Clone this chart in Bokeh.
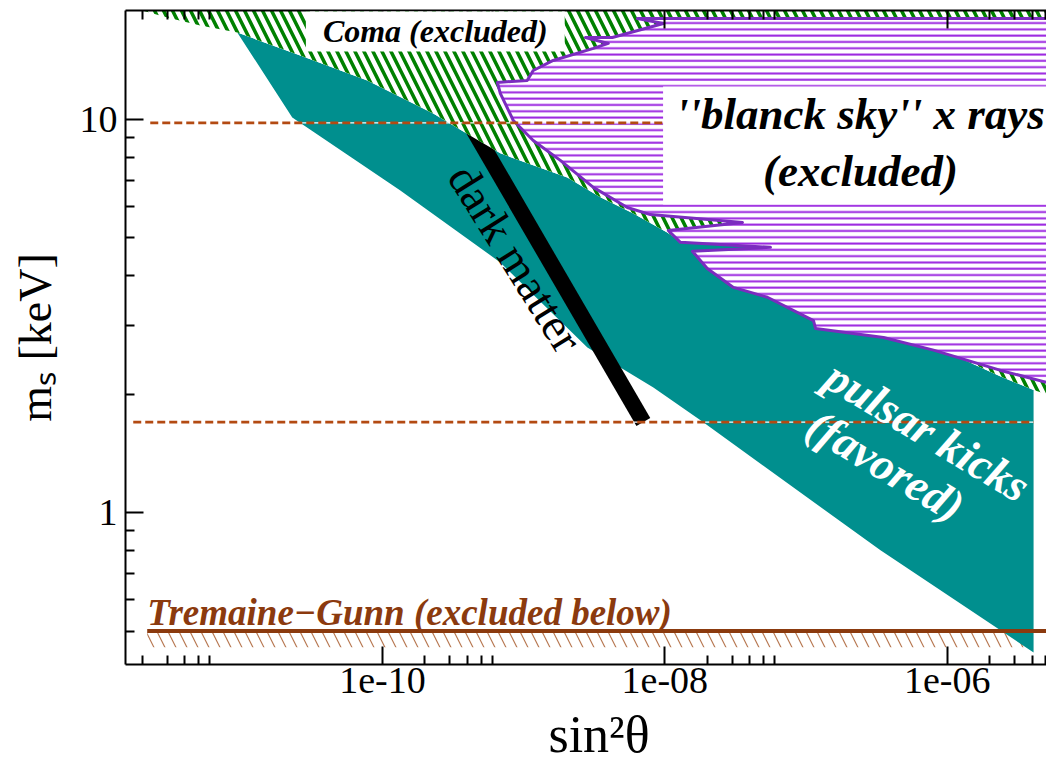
import math
from bokeh.plotting import figure
from bokeh.models import Range1d, LogAxis, FixedTicker, CustomJSTickFormatter, Label
from bokeh.embed import file_html
from bokeh.resources import INLINE

# ---------------- data : x = sin^2(theta), y = m_s [keV] ----------------
x_major = [1e-12, 1e-10, 1e-8, 1e-6]
x_minor = [2e-12, 3e-12, 4e-12, 5e-12, 6e-12,
           2e-10, 3e-10, 4e-10, 5e-10, 6e-10,
           2e-8, 3e-8, 4e-8, 5e-8, 6e-8,
           2e-6, 3e-6, 4e-6, 5e-6, 6e-6]
y_major = [1, 10]
y_minor = [0.5, 0.6, 0.7, 0.8, 0.9, 2, 3, 4, 5, 6, 7, 8, 9]

# pulsar-kick (favoured) region
pulsar_x = [9.38e-12, 2.62e-11, 7.82e-11, 2.29e-10, 4.41e-10, 6.84e-10, 2.04e-9, 3.50e-9,
            5.99e-9, 1.04e-8, 1.29e-8, 6.07e-8, 6.07e-8, 2.10e-8, 3.06e-8, 5.33e-8,
            1.13e-7, 3.54e-7, 8.0e-7, 1.24e-6, 2.39e-6, 4.09e-6, 4.09e-6, 3.37e-7,
            1.79e-8, 8.30e-9, 2.83e-9, 6.84e-10, 1.34e-10, 2.30e-11]
pulsar_y = [16.64, 14.54, 12.57, 10.36, 9.00, 8.20, 7.12, 6.34,
            5.77, 5.16, 4.90, 4.78, 4.64, 4.33, 3.83, 3.61,
            3.16, 2.86, 2.63, 2.47, 2.22, 2.05, 0.441, 0.802,
            1.717, 2.08, 2.63, 4.33, 6.60, 10.12]

# Coma exclusion: lower-left edge, then along the top of the pulsar region
coma_left_x = [1.8e-12, 1.99e-12, 2.99e-12, 5.13e-12]
coma_left_y = [20.0, 18.93, 18.17, 17.34]
coma_right_x = [6.35e-6, 6.35e-6, 1.8e-12]
coma_right_y = [1.95, 25.0, 25.0]

# "blanck sky" x-ray exclusion
xray_x = [6.35e-6, 6.40e-9, 9.77e-9, 4.25e-9, 2.74e-9, 3.98e-9, 3.12e-9, 1.62e-9,
          1.17e-9, 1.06e-9, 6.52e-10, 6.84e-10, 8.46e-10, 1.17e-9, 1.82e-9, 3.12e-9,
          5.43e-9, 7.91e-9, 3.55e-8, 1.06e-8, 1.29e-8, 5.60e-8, 1.57e-8, 2.00e-8,
          3.06e-8, 5.33e-8, 1.13e-7, 1.17e-7, 3.54e-7, 8.0e-7, 2.39e-6, 6.35e-6]
xray_y = [18.06, 18.06, 17.54, 16.16, 16.16, 15.61, 15.16, 14.13,
          13.32, 12.57, 12.42, 11.65, 9.94, 8.84, 7.87, 6.72,
          5.97, 5.73, 5.47, 5.22, 4.87, 4.73, 4.62, 4.18,
          3.74, 3.53, 3.08, 2.94, 2.79, 2.59, 2.30, 2.10]

# dark matter line
dm_x = [3.28e-10, 7.05e-9]
dm_y = [11.31, 1.70]

# Tremaine-Gunn bound
tg_mass = 0.5
tg_hatch_low = 0.455
tg_x = [2.16e-12, 6.35e-6]
tg_hatch_x = [2.16e-12, 4.0e-6]

# dotted reference masses
ref_hi_mass = 9.8
ref_hi_x = [2.27e-12, 9.62e-9]
ref_lo_mass = 1.7
ref_lo_x = [1.72e-12, 4.09e-6]

# ---------------- figure ----------------
FONT = "Liberation Serif"
p = figure(width=1046, height=765, x_axis_type="log", y_axis_type="log",
           x_range=Range1d(1.516e-12, 5.05e-6), y_range=Range1d(0.411, 18.93),
           output_backend="svg", toolbar_location=None,
           min_border_left=125, min_border_right=0, min_border_top=10, min_border_bottom=101)
p.outline_line_color = None
p.grid.visible = False
p.background_fill_color = "white"
p.border_fill_color = "white"

xfmt = CustomJSTickFormatter(code="""
const e = Math.round(Math.log10(tick));
const a = Math.abs(e);
return "1e" + (e < 0 ? "-" : "+") + (a < 10 ? "0" + a : String(a));
""")
yfmt = CustomJSTickFormatter(code="return String(Math.round(tick));")
blankfmt = CustomJSTickFormatter(code="return '';")


def style(ax, ticks, minors):
    ax.ticker = FixedTicker(ticks=ticks, minor_ticks=minors)
    ax.axis_line_width = 2
    ax.axis_line_color = "black"
    ax.major_tick_in = 18
    ax.major_tick_out = 0
    ax.minor_tick_in = 9
    ax.minor_tick_out = 0
    ax.major_tick_line_width = 2
    ax.minor_tick_line_width = 2
    ax.major_label_text_font = FONT
    ax.major_label_text_font_size = "38px"
    ax.major_label_text_color = "black"
    ax.axis_label_text_font = FONT
    ax.axis_label_text_font_style = "normal"
    ax.axis_label_text_color = "black"


xa = p.xaxis[0]
style(xa, x_major, x_minor)
xa.formatter = xfmt
xa.major_label_standoff = 3
xa.axis_label = "\u2002sin\u00b2\u03b8"
xa.axis_label_text_font_size = "52px"
xa.axis_label_standoff = 10

ya = p.yaxis[0]
style(ya, y_major, y_minor)
ya.formatter = yfmt
ya.major_label_standoff = 8
ya.axis_label = "m\u209b [keV]"
ya.axis_label_text_font_size = "46px"
ya.axis_label_standoff = 16

top = LogAxis()
style(top, x_major, x_minor)
top.formatter = blankfmt
top.major_label_text_font_size = "1px"
top.major_label_standoff = 0
p.add_layout(top, "above")

# Tremaine-Gunn hatch (below the bound)
p.quad(left=[tg_hatch_x[0]], right=[tg_hatch_x[1]], bottom=[tg_hatch_low], top=[tg_mass],
       fill_color=None, line_color=None, hatch_pattern="left_diagonal_line",
       hatch_color="#b06a40", hatch_scale=22, hatch_weight=1.2, hatch_alpha=0.9)

# pulsar kick region
p.patch(pulsar_x, pulsar_y, fill_color="#008f8e", line_color=None)

# dark matter band
p.line(dm_x, dm_y, line_color="black", line_width=16, line_cap="butt")

# Coma exclusion
coma_x = coma_left_x + pulsar_x[:22] + coma_right_x
coma_y = coma_left_y + pulsar_y[:22] + coma_right_y
p.patch(coma_x, coma_y, fill_color="white", line_color=None,
        hatch_pattern="left_diagonal_line", hatch_color="#008000",
        hatch_scale=18, hatch_weight=3.5)

# x-ray exclusion
p.patch(xray_x, xray_y, fill_color="white", line_color="#7b2cbf", line_width=3,
        line_join="round", hatch_pattern="horizontal_line", hatch_color="#9b26e0",
        hatch_scale=6.3, hatch_weight=2.0)

# reference dashed lines
for xs, m in ((ref_hi_x, ref_hi_mass), (ref_lo_x, ref_lo_mass)):
    p.line(xs, [m, m], line_color="white", line_width=1.2)
    p.line(xs, [m, m], line_color="#b34a12", line_width=2.7, line_dash="8 4")

# Tremaine-Gunn line
p.line(tg_x, [tg_mass, tg_mass], line_color="#8b3a0e", line_width=4)

# ---------------- texts ----------------
def lab(**kw):
    base = dict(text_font=FONT, text_color="black")
    base.update(kw)
    p.add_layout(Label(**base))


lab(x=2.37e-10, y=16.74, text="Coma (excluded)", text_align="center", text_baseline="middle",
    text_font_size="32px", text_font_style="bold italic",
    background_fill_color="white", padding=dict(left=17, right=17, top=2, bottom=2))
lab(x=2.43e-7, y=8.59, text="''blanck sky'' x rays\n(excluded)", text_align="center",
    text_baseline="middle", text_font_size="45px", text_font_style="bold italic",
    text_line_height=1.14, background_fill_color="white",
    padding=dict(left=13, right=13, top=3, bottom=8))
lab(x=8.74e-10, y=4.43, text="dark matter", text_align="center", text_baseline="middle",
    text_font_size="46px", angle=-58, angle_units="deg")
lab(x=7.25e-7, y=1.61, text="pulsar kicks", text_align="center", text_baseline="middle",
    text_font_size="46px", text_font_style="bold italic", text_color="white",
    angle=-31, angle_units="deg")
lab(x=3.66e-7, y=1.319, text="(favored)", text_align="center", text_baseline="middle",
    text_font_size="46px", text_font_style="bold italic", text_color="white",
    angle=-31, angle_units="deg")
lab(x=2.16e-12, y=0.558, text="Tremaine\u2212Gunn (excluded below)", text_align="left",
    text_baseline="alphabetic", text_font_size="37px", text_font_style="bold italic",
    text_color="#8b3a0e")

open("out.html", "w").write(file_html(p, INLINE))
